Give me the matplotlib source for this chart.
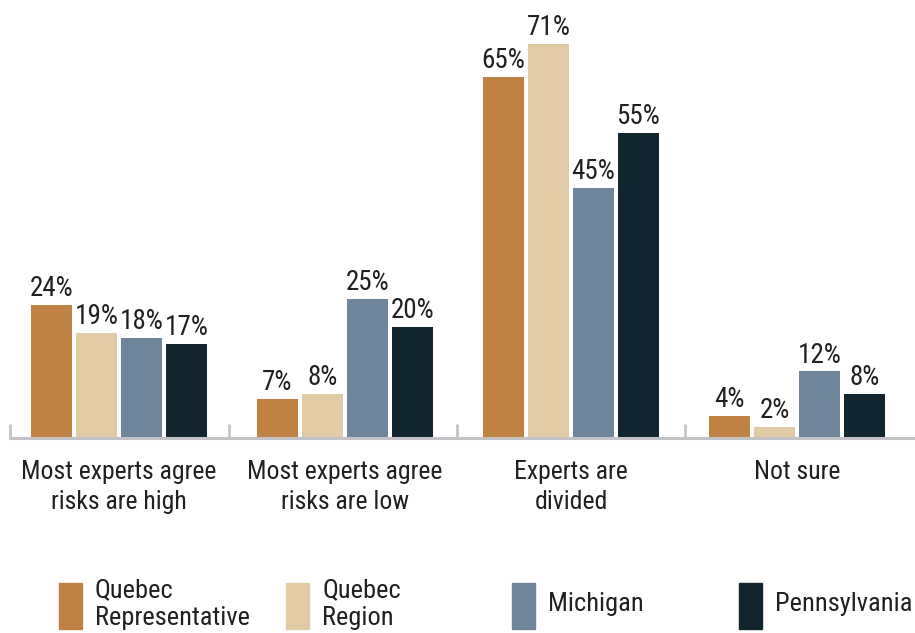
import numpy as np
import matplotlib
matplotlib.use("Agg")
from matplotlib import pyplot as plt
from matplotlib.patches import Rectangle

categories = ["Most experts agree\nrisks are high", "Most experts agree\nrisks are low",
              "Experts are\ndivided", "Not sure"]
series = ["Quebec\nRepresentative", "Quebec\nRegion", "Michigan", "Pennsylvania"]
quebec_rep = [24, 7, 65, 4]
quebec_region = [19, 8, 71, 2]
michigan = [18, 25, 45, 12]
pennsylvania = [17, 20, 55, 8]
colors = ["#C08243", "#E0CBA5", "#6E859B", "#13262F"]

plt.rcParams["font.family"] = ["Roboto Condensed", "DejaVu Sans"]

W, H = 915, 633
fig = plt.figure(figsize=(W / 100, H / 100), dpi=100)
ax = fig.add_axes([0, (H - 438) / H, 1, 438 / H])

step = 226.0
x = np.arange(len(categories))
bw = 41 / step
off = 45 / step
for i, vals in enumerate([quebec_rep, quebec_region, michigan, pennsylvania]):
    pos = x + (i - 1.5) * off
    bars = ax.bar(pos, vals, width=bw, color=colors[i], zorder=2)
    for b, v in zip(bars, vals):
        ax.annotate(f"{v}%", (b.get_x() + b.get_width() / 2, v), xytext=(0, 2),
                    textcoords="offset points", ha="center", va="bottom",
                    fontsize=19.5, color="#231f20")

ax.set_xlim(-119 / step, (W - 119) / step)
ax.set_ylim(0, 438 / 5.55)
for s in ["top", "right", "left"]:
    ax.spines[s].set_visible(False)
ax.spines["bottom"].set_color("#c3c3c7")
ax.spines["bottom"].set_linewidth(2.2)
ax.spines["bottom"].set_bounds(-0.482, (W - 119) / step)
ax.set_yticks([])
ax.set_xticks([-0.482, 0.485, 1.495, 2.505])
ax.set_xticklabels([])
ax.tick_params(axis="x", which="major", direction="in", length=10, width=2, color="#c3c3c7")
ax.set_xticks(x, minor=True)
ax.set_xticklabels(categories, minor=True, fontsize=18.5, color="#231f20", linespacing=1.3)
ax.tick_params(axis="x", which="minor", length=0, pad=16)

# legend
lx = [59, 286, 512, 739]
for i, name in enumerate(series):
    fig.add_artist(Rectangle((lx[i] / W, (H - 629) / H), 23 / W, 46 / H,
                             transform=fig.transFigure, color=colors[i]))
    fig.text((lx[i] + 36) / W, (H - 604) / H, name, fontsize=19, color="#231f20",
             va="center", ha="left", linespacing=1.25)

fig.savefig("out.png", dpi=100)
